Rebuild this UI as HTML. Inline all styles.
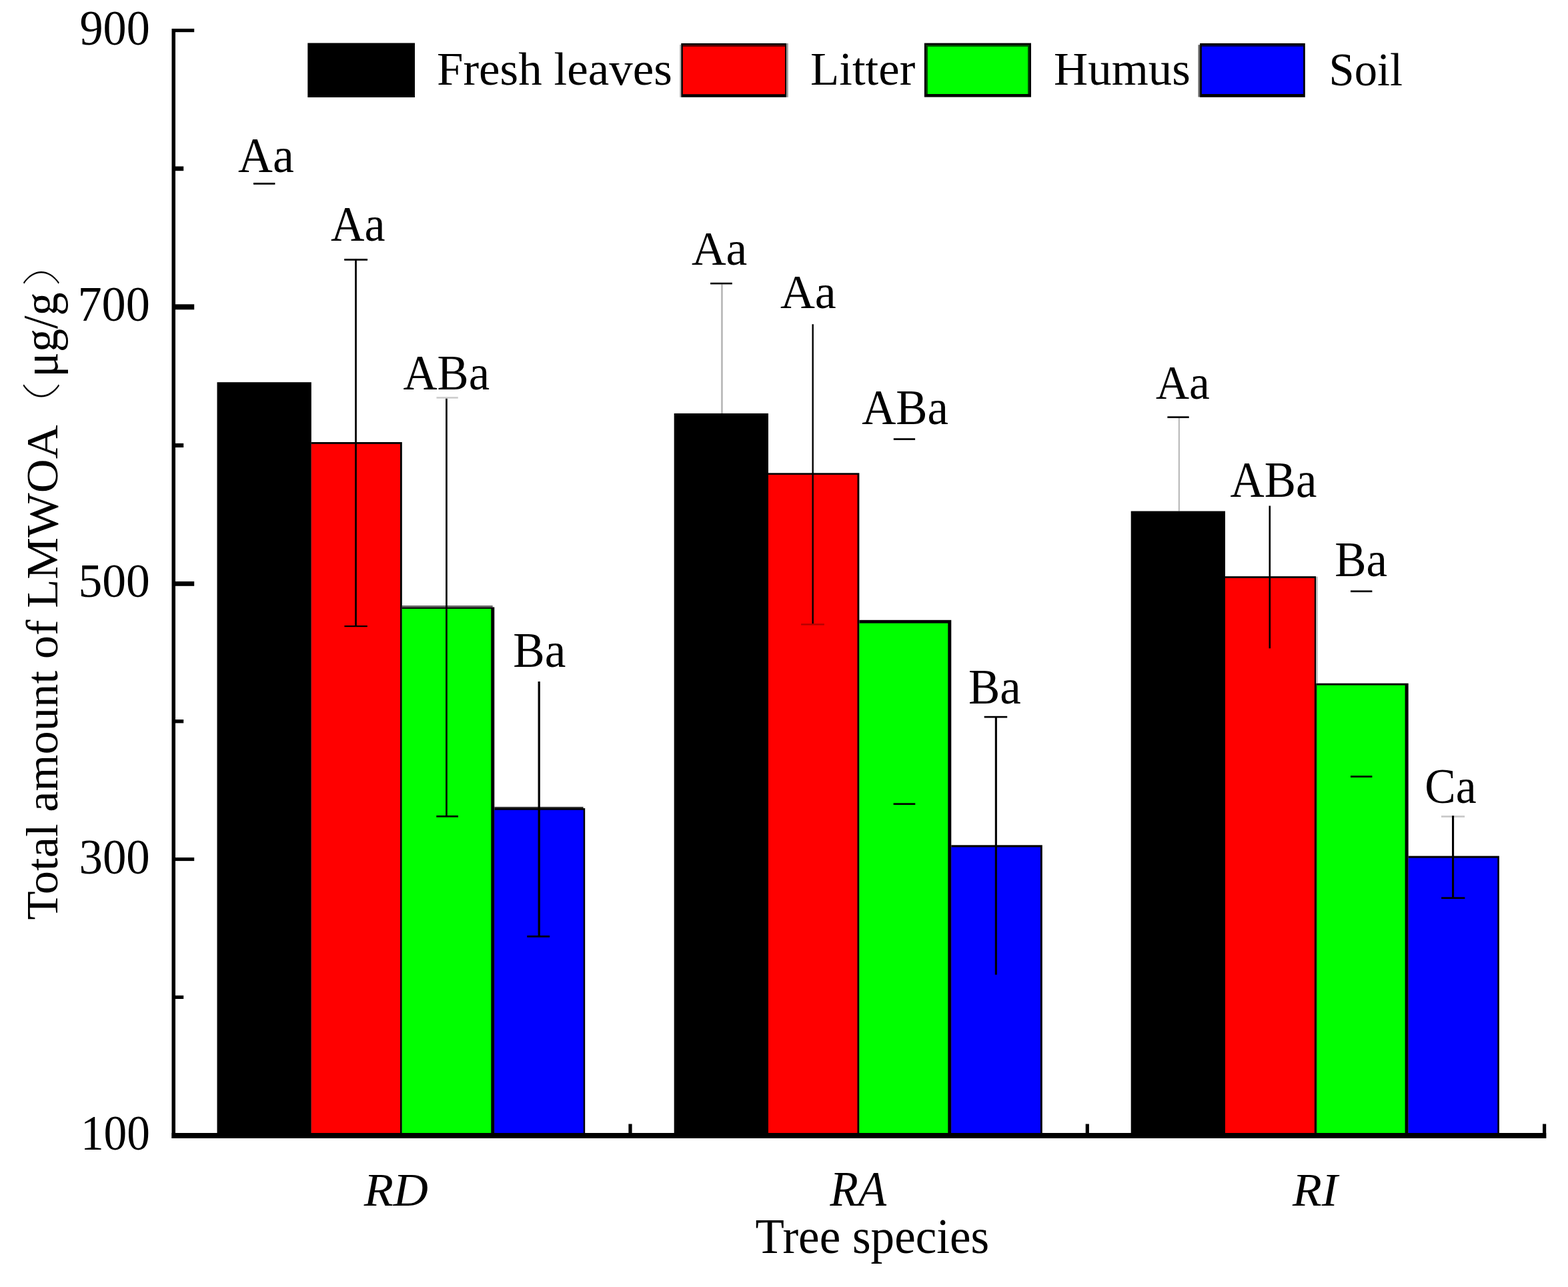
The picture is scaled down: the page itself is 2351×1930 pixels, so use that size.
<!DOCTYPE html>
<html><head><meta charset="utf-8"><title>Total amount of LMWOA</title>
<style>html,body{margin:0;padding:0;background:#fff;}svg{display:block;}</style></head>
<body><svg width="2351" height="1930" viewBox="0 0 2351 1930">
<rect x="0" y="0" width="2351" height="1930" fill="#fff"/>
<rect x="325.50" y="573.20" width="141.30" height="1125.80" fill="#000"/>
<rect x="466.80" y="663.00" width="136.00" height="1036.00" fill="#000"/>
<rect x="466.80" y="665.80" width="133.20" height="1033.20" fill="#ff0000"/>
<rect x="602.80" y="910.50" width="138.50" height="788.50" fill="#000"/>
<rect x="602.80" y="912.90" width="133.50" height="786.10" fill="#00ff00"/>
<rect x="741.30" y="1212.00" width="135.90" height="487.00" fill="#000"/>
<rect x="741.30" y="1214.70" width="133.50" height="484.30" fill="#0000ff"/>
<rect x="1010.70" y="619.90" width="141.30" height="1079.10" fill="#000"/>
<rect x="1152.00" y="709.30" width="136.40" height="989.70" fill="#000"/>
<rect x="1152.00" y="711.90" width="133.50" height="987.10" fill="#ff0000"/>
<rect x="1288.40" y="929.80" width="137.90" height="769.20" fill="#000"/>
<rect x="1288.40" y="934.60" width="132.90" height="764.40" fill="#00ff00"/>
<rect x="1426.30" y="1267.30" width="136.50" height="431.70" fill="#000"/>
<rect x="1426.30" y="1270.40" width="133.70" height="428.60" fill="#0000ff"/>
<rect x="1695.70" y="766.50" width="141.30" height="932.50" fill="#000"/>
<rect x="1837.00" y="864.20" width="136.10" height="834.80" fill="#000"/>
<rect x="1837.00" y="866.90" width="133.90" height="832.10" fill="#ff0000"/>
<rect x="1974.20" y="1024.70" width="137.50" height="674.30" fill="#000"/>
<rect x="1974.20" y="1027.60" width="132.40" height="671.40" fill="#00ff00"/>
<rect x="2111.70" y="1283.60" width="136.20" height="415.40" fill="#000"/>
<rect x="2111.70" y="1286.60" width="133.60" height="412.40" fill="#0000ff"/>
<rect x="602.80" y="908.00" width="135.90" height="2.50" fill="#000" fill-opacity="0.6"/>
<rect x="741.30" y="1209.90" width="133.30" height="2.10" fill="#000" fill-opacity="0.8"/>
<rect x="380.00" y="274.00" width="32.40" height="2.80" fill="#000"/>
<rect x="516.20" y="388.00" width="34.80" height="2.80" fill="#000"/>
<rect x="516.40" y="938.00" width="34.40" height="2.20" fill="#000"/>
<rect x="532.10" y="388.00" width="2.80" height="552.00" fill="#000"/>
<rect x="654.50" y="595.10" width="32.30" height="2.60" fill="#000" fill-opacity="0.2"/>
<rect x="654.30" y="1222.90" width="32.70" height="2.70" fill="#000"/>
<rect x="668.00" y="597.70" width="2.90" height="626.80" fill="#000" fill-opacity="0.87"/>
<rect x="806.60" y="1022.00" width="3.30" height="382.30" fill="#000"/>
<rect x="790.30" y="1402.90" width="33.90" height="2.80" fill="#000"/>
<rect x="1065.10" y="423.80" width="32.70" height="2.60" fill="#000"/>
<rect x="1081.10" y="426.40" width="2.70" height="193.60" fill="#000" fill-opacity="0.28"/>
<rect x="1217.50" y="486.20" width="2.40" height="449.00" fill="#000"/>
<rect x="1201.10" y="935.20" width="34.80" height="2.40" fill="#000" fill-opacity="0.29"/>
<rect x="1339.80" y="657.20" width="32.30" height="2.70" fill="#000"/>
<rect x="1339.60" y="1204.30" width="32.70" height="2.70" fill="#000"/>
<rect x="1475.70" y="1073.80" width="34.50" height="2.70" fill="#000"/>
<rect x="1491.80" y="1075.00" width="3.10" height="386.70" fill="#000"/>
<rect x="1750.40" y="624.30" width="32.30" height="2.70" fill="#000"/>
<rect x="1766.80" y="627.00" width="2.10" height="139.50" fill="#000" fill-opacity="0.28"/>
<rect x="1902.50" y="758.50" width="2.60" height="213.80" fill="#000"/>
<rect x="2025.00" y="885.40" width="32.40" height="2.70" fill="#000"/>
<rect x="2025.00" y="1163.20" width="32.40" height="2.70" fill="#000"/>
<rect x="2161.00" y="1223.10" width="35.10" height="2.70" fill="#000" fill-opacity="0.215"/>
<rect x="2177.00" y="1223.20" width="3.10" height="123.40" fill="#000"/>
<rect x="2161.10" y="1345.30" width="35.30" height="2.70" fill="#000"/>
<rect x="1973.10" y="864.80" width="2.70" height="159.90" fill="#000" fill-opacity="0.25"/>
<rect x="1973.10" y="1024.70" width="1.10" height="674.30" fill="#000"/>
<rect x="257.50" y="43.00" width="5.50" height="1664.00" fill="#000"/>
<rect x="257.50" y="1699.00" width="2060.90" height="8.00" fill="#000"/>
<rect x="263.00" y="43.00" width="28.20" height="5.20" fill="#000"/>
<rect x="263.00" y="456.30" width="28.20" height="8.00" fill="#000"/>
<rect x="263.00" y="871.90" width="28.20" height="6.90" fill="#000"/>
<rect x="263.00" y="1285.90" width="28.20" height="5.20" fill="#000"/>
<rect x="263.00" y="249.50" width="12.20" height="6.70" fill="#000"/>
<rect x="263.00" y="664.80" width="12.20" height="6.20" fill="#000"/>
<rect x="263.00" y="1079.00" width="12.20" height="5.40" fill="#000"/>
<rect x="263.00" y="1492.80" width="12.20" height="5.20" fill="#000"/>
<rect x="942.40" y="1685.50" width="5.20" height="13.50" fill="#000"/>
<rect x="1627.70" y="1685.50" width="5.20" height="13.50" fill="#000"/>
<rect x="2313.00" y="1685.50" width="5.20" height="13.50" fill="#000"/>
<text transform="translate(119.45,67.00) scale(0.9748,1.0383)" font-size="72" font-family="&apos;Liberation Serif&apos;,&apos;Times New Roman&apos;,serif">900</text>
<text transform="translate(116.38,480.90) scale(1.0040,1.0383)" font-size="72" font-family="&apos;Liberation Serif&apos;,&apos;Times New Roman&apos;,serif">700</text>
<text transform="translate(117.42,895.00) scale(0.9941,1.0021)" font-size="72" font-family="&apos;Liberation Serif&apos;,&apos;Times New Roman&apos;,serif">500</text>
<text transform="translate(118.45,1310.00) scale(0.9843,1.0426)" font-size="72" font-family="&apos;Liberation Serif&apos;,&apos;Times New Roman&apos;,serif">300</text>
<text transform="translate(120.92,1723.50) scale(0.9626,1.0319)" font-size="72" font-family="&apos;Liberation Serif&apos;,&apos;Times New Roman&apos;,serif">100</text>
<text transform="translate(357.10,257.70) scale(0.9963,1.0362)" font-size="72" font-family="&apos;Liberation Serif&apos;,&apos;Times New Roman&apos;,serif">Aa</text>
<text transform="translate(496.03,360.70) scale(0.9695,1.0362)" font-size="72" font-family="&apos;Liberation Serif&apos;,&apos;Times New Roman&apos;,serif">Aa</text>
<text transform="translate(604.52,583.90) scale(0.9815,1.0362)" font-size="72" font-family="&apos;Liberation Serif&apos;,&apos;Times New Roman&apos;,serif">ABa</text>
<text transform="translate(769.32,999.80) scale(0.9896,1.0170)" font-size="72" font-family="&apos;Liberation Serif&apos;,&apos;Times New Roman&apos;,serif">Ba</text>
<text transform="translate(1037.01,396.50) scale(0.9927,0.9915)" font-size="72" font-family="&apos;Liberation Serif&apos;,&apos;Times New Roman&apos;,serif">Aa</text>
<text transform="translate(1170.00,461.70) scale(0.9976,0.9894)" font-size="72" font-family="&apos;Liberation Serif&apos;,&apos;Times New Roman&apos;,serif">Aa</text>
<text transform="translate(1292.22,635.60) scale(0.9838,1.0362)" font-size="72" font-family="&apos;Liberation Serif&apos;,&apos;Times New Roman&apos;,serif">ABa</text>
<text transform="translate(1452.03,1054.70) scale(0.9857,1.0255)" font-size="72" font-family="&apos;Liberation Serif&apos;,&apos;Times New Roman&apos;,serif">Ba</text>
<text transform="translate(1733.04,597.70) scale(0.9622,0.9872)" font-size="72" font-family="&apos;Liberation Serif&apos;,&apos;Times New Roman&apos;,serif">Aa</text>
<text transform="translate(1844.52,744.60) scale(0.9846,1.0426)" font-size="72" font-family="&apos;Liberation Serif&apos;,&apos;Times New Roman&apos;,serif">ABa</text>
<text transform="translate(2001.13,863.50) scale(0.9857,1.0298)" font-size="72" font-family="&apos;Liberation Serif&apos;,&apos;Times New Roman&apos;,serif">Ba</text>
<text transform="translate(2136.30,1203.80) scale(0.9671,1.0362)" font-size="72" font-family="&apos;Liberation Serif&apos;,&apos;Times New Roman&apos;,serif">Ca</text>
<text transform="translate(545.70,1807.70) scale(1.0032,0.9766)" font-size="72" font-family="&apos;Liberation Serif&apos;,&apos;Times New Roman&apos;,serif" font-style="italic">RD</text>
<text transform="translate(1244.50,1807.50) scale(0.9602,1.0319)" font-size="72" font-family="&apos;Liberation Serif&apos;,&apos;Times New Roman&apos;,serif" font-style="italic">RA</text>
<text transform="translate(1938.00,1807.70) scale(0.9958,0.9766)" font-size="72" font-family="&apos;Liberation Serif&apos;,&apos;Times New Roman&apos;,serif" font-style="italic">RI</text>
<text transform="translate(1132.51,1879.09) scale(0.9875,1.0339)" font-size="72" font-family="&apos;Liberation Serif&apos;,&apos;Times New Roman&apos;,serif">Tree species</text>
<text transform="translate(655.00,127.30) scale(0.9997,0.9830)" font-size="71" font-family="&apos;Liberation Serif&apos;,&apos;Times New Roman&apos;,serif">Fresh leaves</text>
<text transform="translate(1215.01,127.40) scale(0.9974,0.9850)" font-size="71" font-family="&apos;Liberation Serif&apos;,&apos;Times New Roman&apos;,serif">Litter</text>
<text transform="translate(1580.00,127.40) scale(0.9985,0.9850)" font-size="71" font-family="&apos;Liberation Serif&apos;,&apos;Times New Roman&apos;,serif">Humus</text>
<text transform="translate(1992.57,127.60) scale(0.9657,0.9850)" font-size="71" font-family="&apos;Liberation Serif&apos;,&apos;Times New Roman&apos;,serif">Soil</text>
<text transform="translate(85.60,1379.49) rotate(-90) scale(0.9946,0.9650)" font-size="71" font-family="&apos;Liberation Serif&apos;,&apos;Times New Roman&apos;,serif">Total amount of LMWOA</text>
<text transform="translate(83.79,657.28) rotate(-90) scale(1.4154,0.9625)" font-size="60" font-family="&apos;Liberation Serif&apos;,&apos;Noto Sans CJK SC&apos;,sans-serif" font-weight="100">（</text>
<text transform="translate(86.22,565.63) rotate(-90) scale(0.9876,1.0387)" font-size="71" font-family="&apos;Liberation Serif&apos;,&apos;Times New Roman&apos;,serif">μg/g</text>
<text transform="translate(83.44,429.43) rotate(-90) scale(1.3769,0.9518)" font-size="60" font-family="&apos;Liberation Serif&apos;,&apos;Noto Sans CJK SC&apos;,sans-serif" font-weight="100">）</text>
<rect x="461.30" y="64.50" width="160.70" height="81.50" fill="#000"/>
<rect x="1019.10" y="67.00" width="2.20" height="78.80" fill="#b8b8b8"/>
<rect x="1178.90" y="64.90" width="2.90" height="80.90" fill="#9a9a9a"/>
<rect x="1021.30" y="64.90" width="157.60" height="80.90" fill="#000"/>
<rect x="1023.90" y="66.90" width="153.10" height="74.30" fill="#500000"/>
<rect x="1023.90" y="69.90" width="153.10" height="71.30" fill="#ff0000"/>
<rect x="1385.90" y="64.60" width="160.10" height="81.00" fill="#000"/>
<rect x="1388.50" y="67.20" width="154.90" height="73.80" fill="#004a00"/>
<rect x="1391.00" y="69.90" width="150.00" height="71.10" fill="#00ff00"/>
<rect x="1796.50" y="67.20" width="2.60" height="78.30" fill="#666"/>
<rect x="1799.10" y="64.90" width="157.70" height="80.90" fill="#000"/>
<rect x="1801.90" y="67.20" width="152.20" height="73.80" fill="#000040"/>
<rect x="1801.90" y="69.80" width="152.20" height="71.20" fill="#0000ff"/>
</svg></body></html>
